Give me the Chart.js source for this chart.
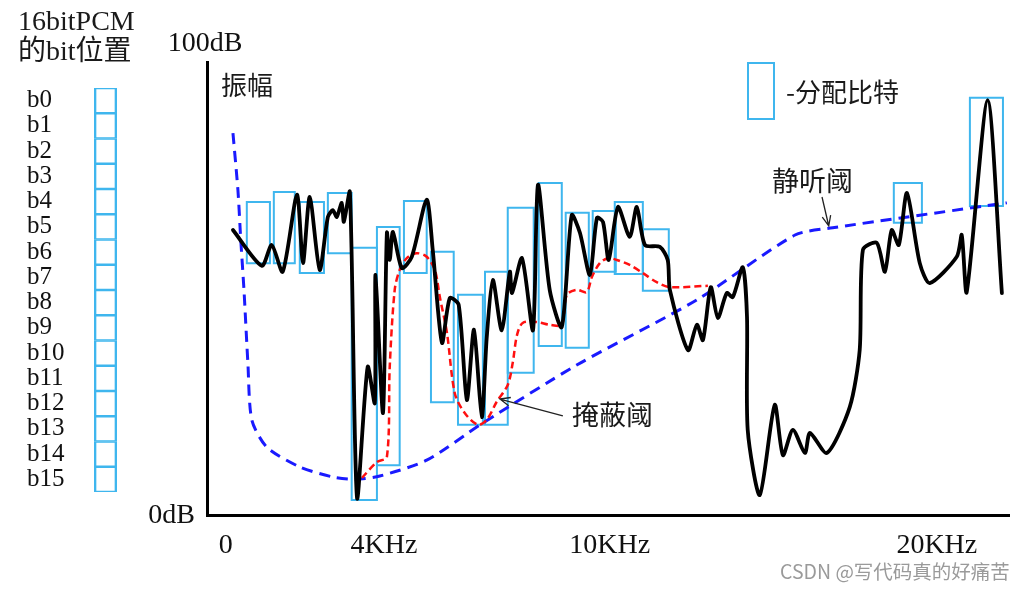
<!DOCTYPE html>
<html>
<head>
<meta charset="utf-8">
<script src="https://cdn.jsdelivr.net/npm/chart.js@4.4.1/dist/chart.umd.min.js"></script>
<style>
  html, body { margin: 0; padding: 0; background: #fff; }
  body { width: 1028px; height: 590px; position: relative; overflow: hidden; }
  canvas { position: absolute; left: 0; top: 0; }
  .txt { position: absolute; white-space: nowrap; color: #1a1a1a; line-height: 1; }
  .cjk { font-family: 'Noto Sans CJK SC', sans-serif; }
  .serif { font-family: 'Liberation Serif', 'Noto Sans CJK SC', serif; }
</style>
</head>
<body>
<canvas id="mainChart" width="1028" height="590"></canvas>
<canvas id="bitChart" width="130" height="590"></canvas>

<div class="txt serif" style="left:18px;top:6px;font-size:28px;line-height:30px;">16bitPCM<br>的bit位置</div>
<div class="txt cjk" style="left:221px;top:71px;font-size:26px;">振幅</div>
<div style="position:absolute;left:747px;top:62px;width:24px;height:54px;border:2px solid #3fb6ee;"></div>
<div class="txt cjk" style="left:786px;top:78px;font-size:26px;">-分配比特</div>
<div class="txt cjk" style="left:772px;top:166px;font-size:27px;">静听阈</div>
<div class="txt cjk" style="left:572px;top:400px;font-size:27px;">掩蔽阈</div>
<div class="txt cjk" style="left:780px;top:561px;font-size:19.5px;color:#9a9a9a;">CSDN @写代码真的好痛苦</div>

<script>
// === Data ===
const bitLabels = ["b0", "b1", "b2", "b3", "b4", "b5", "b6", "b7",
                   "b8", "b9", "b10", "b11", "b12", "b13", "b14", "b15"];

const freqTicks = [0, 4.45, 10.8, 20];
const freqTickLabels = ["0", "4KHz", "10KHz", "20KHz"];
const dbTicks = [0, 100];
const dbTickLabels = ["0dB", "100dB"];

// [freq, dB]
const spectrum = [
    [0.20, 62.9], [1.01, 55.0], [1.29, 59.6], [1.60, 53.7], [2.00, 70.7], [2.17, 55.6],
    [2.36, 70.2], [2.64, 54.1], [2.87, 65.8], [3.01, 67.3], [3.12, 65.8], [3.26, 68.9],
    [3.32, 64.7], [3.49, 71.3], [3.69, 3.8], [3.99, 32.7], [4.19, 24.7], [4.21, 53.0],
    [4.42, 22.5], [4.53, 62.3], [4.61, 56.3], [4.70, 62.5], [4.95, 54.5], [5.23, 57.0],
    [5.65, 69.6], [5.82, 58.5], [6.08, 38.0], [6.30, 47.9], [6.55, 46.4], [6.78, 25.4],
    [6.98, 40.9], [7.20, 21.6], [7.34, 39.3], [7.51, 51.9], [7.76, 40.8], [7.99, 53.7],
    [8.05, 49.0], [8.33, 56.7], [8.64, 40.8], [8.78, 72.9], [9.11, 49.7], [9.45, 41.5],
    [9.73, 66.2], [9.96, 62.3], [10.24, 53.0], [10.44, 65.6], [10.61, 64.7], [10.77, 56.3],
    [11.03, 68.0], [11.36, 61.4], [11.56, 68.0], [11.79, 59.6], [12.21, 59.2], [12.43, 56.3],
    [12.49, 49.7], [13.00, 36.4], [13.25, 42.0], [13.42, 38.6], [13.64, 50.3], [13.84, 43.5],
    [14.09, 49.0], [14.26, 48.1], [14.54, 54.7], [14.66, 43.7], [14.68, 18.8], [15.02, 4.4],
    [15.44, 24.3], [15.67, 13.2], [15.95, 18.8], [16.29, 13.7], [16.43, 18.1], [16.91, 13.7],
    [17.55, 23.8], [17.83, 36.4], [17.92, 58.5], [18.31, 60.1], [18.54, 53.7], [18.73, 62.9],
    [18.93, 59.6], [19.16, 71.1], [19.52, 55.6], [19.80, 51.2], [20.56, 57.0], [20.70, 61.8],
    [20.84, 49.2], [21.43, 91.6], [21.83, 49.0]
];

const maskThreshold = [
    [3.83, 8.2], [4.25, 11.7], [4.53, 12.8], [4.61, 32.7], [4.75, 49.7], [4.89, 54.1],
    [5.09, 56.7], [5.37, 57.8], [5.65, 57.0], [5.88, 54.1], [6.02, 48.1], [6.22, 40.2],
    [6.44, 26.9], [6.72, 22.5], [7.09, 19.9], [7.34, 21.0], [7.62, 25.0], [7.93, 28.7],
    [8.07, 33.6], [8.19, 39.7], [8.35, 42.4], [8.75, 42.6], [9.11, 42.0], [9.45, 42.0],
    [9.59, 48.6], [9.87, 49.7], [10.15, 49.2], [10.30, 52.6], [10.52, 55.6], [10.75, 56.7],
    [11.00, 56.3], [11.36, 55.2], [11.73, 53.4], [12.12, 51.4], [12.49, 50.3], [13.56, 50.6]
];

const quietThreshold = [
    [0.20, 84.3], [0.34, 71.7], [0.42, 60.7], [0.51, 49.7], [0.62, 33.6], [0.73, 21.0],
    [1.15, 15.0], [2.08, 10.6], [3.01, 8.4], [3.63, 7.9], [4.33, 8.6], [5.65, 12.1],
    [7.23, 20.3], [9.87, 33.1], [13.25, 47.5], [16.01, 61.8], [17.07, 63.4], [21.97, 68.9]
];

// [freqLeft, freqRight, dbLow, dbHigh]
const bitBoxes = [
    [0.59, 1.24, 55.6, 69.1], [1.35, 1.94, 55.6, 71.3], [2.08, 2.76, 53.4, 69.1],
    [2.87, 3.54, 57.8, 71.1], [3.54, 4.25, 3.3, 59.0], [4.25, 4.89, 11.0, 63.6],
    [5.01, 5.65, 53.4, 69.3], [5.77, 6.41, 24.9, 58.1], [6.53, 7.23, 19.9, 48.6],
    [7.29, 7.93, 19.9, 53.7], [7.93, 8.66, 31.4, 67.8], [8.80, 9.45, 37.3, 73.3],
    [9.56, 10.21, 36.9, 66.7], [10.32, 10.97, 53.7, 67.1], [10.94, 11.73, 53.2, 69.1],
    [11.73, 12.46, 49.5, 63.1], [18.79, 19.58, 64.5, 73.3], [20.93, 21.86, 68.2, 92.1]
];

const BOX_BLUE = "#3fb6ee";
const SERIF = "'Liberation Serif', 'Noto Sans CJK SC', serif";

Chart.defaults.color = "#111";
Chart.defaults.font.family = SERIF;
Chart.defaults.animation = false;

const toPoints = arr => arr.map(p => ({ x: p[0], y: p[1] }));

// === Left bit column ===
new Chart(document.getElementById("bitChart"), {
    type: "bar",
    data: {
        labels: bitLabels,
        datasets: [{
            data: bitLabels.map(() => [0, 1]),
            backgroundColor: "rgba(0,0,0,0)",
            borderColor: BOX_BLUE,
            borderWidth: { left: 2, right: 2, top: 1, bottom: 1 },
            borderSkipped: false,
            barPercentage: 1,
            categoryPercentage: 1
        }]
    },
    options: {
        indexAxis: "y",
        responsive: false,
        layout: { padding: { left: 27, right: 13, top: 88, bottom: 98 } },
        plugins: { legend: { display: false }, tooltip: { enabled: false } },
        scales: {
            x: { display: false, min: 0, max: 1 },
            y: {
                grid: { display: false },
                border: { display: false },
                ticks: {
                    font: { size: 25, family: SERIF },
                    color: "#111",
                    crossAlign: "far",
                    padding: 0,
                    autoSkip: false
                },
                afterFit: s => { s.width = 67; }
            }
        }
    }
});

// === Main chart helpers ===
const dbLabelPlugin = {
    id: "dbLabels",
    afterDraw(chart) {
        const { ctx, chartArea, scales: { y } } = chart;
        ctx.save();
        ctx.font = "28px " + SERIF;
        ctx.fillStyle = "#111";
        ctx.textBaseline = "middle";
        ctx.textAlign = "right";
        ctx.fillText(dbTickLabels[0], chartArea.left - 12, y.getPixelForValue(dbTicks[0]) + 1);
        ctx.textAlign = "center";
        ctx.fillText(dbTickLabels[1], chartArea.left - 2, y.getPixelForValue(dbTicks[1]) - 18);
        ctx.restore();
    }
};

function drawArrow(ctx, x0, y0, x1, y1) {
    const ang = Math.atan2(y1 - y0, x1 - x0);
    ctx.beginPath();
    ctx.moveTo(x0, y0);
    ctx.lineTo(x1, y1);
    ctx.moveTo(x1 - 11 * Math.cos(ang - 0.4), y1 - 11 * Math.sin(ang - 0.4));
    ctx.lineTo(x1, y1);
    ctx.lineTo(x1 - 11 * Math.cos(ang + 0.4), y1 - 11 * Math.sin(ang + 0.4));
    ctx.stroke();
}

const arrowPlugin = {
    id: "arrows",
    afterDatasetsDraw(chart) {
        const { ctx, scales: { x, y } } = chart;
        ctx.save();
        ctx.strokeStyle = "#222";
        ctx.lineWidth = 1.3;
        // 静听阈
        drawArrow(ctx, x.getPixelForValue(16.77), y.getPixelForValue(70.2),
                       x.getPixelForValue(16.96), y.getPixelForValue(63.8));
        // 掩蔽阈
        drawArrow(ctx, x.getPixelForValue(9.48), y.getPixelForValue(21.9),
                       x.getPixelForValue(7.71), y.getPixelForValue(25.6));
        ctx.restore();
    }
};

const boxDatasets = bitBoxes.map(([x0, x1, lo, hi]) => ({
    data: [{ x: x0, y: lo }, { x: x1, y: lo }, { x: x1, y: hi }, { x: x0, y: hi }, { x: x0, y: lo }, { x: x1, y: lo }],
    showLine: true,
    borderColor: BOX_BLUE,
    borderWidth: 2,
    pointRadius: 0,
    tension: 0,
    order: 3
}));

new Chart(document.getElementById("mainChart"), {
    type: "scatter",
    data: {
        datasets: [
            {
                data: toPoints(spectrum),
                showLine: true,
                borderColor: "#000",
                borderWidth: 3.8,
                borderJoinStyle: "round",
                borderCapStyle: "round",
                pointRadius: 0,
                tension: 0.25,
                order: 0
            },
            {
                data: toPoints(maskThreshold),
                showLine: true,
                borderColor: "#ff1010",
                borderWidth: 2.5,
                borderDash: [7, 4],
                pointRadius: 0,
                tension: 0.3,
                order: 1
            },
            {
                data: toPoints(quietThreshold),
                showLine: true,
                borderColor: "#1a1aff",
                borderWidth: 3,
                borderDash: [11, 7],
                pointRadius: 0,
                tension: 0.25,
                order: 2
            },
            ...boxDatasets
        ]
    },
    options: {
        responsive: false,
        layout: { padding: { left: 207, top: 62, right: 19, bottom: 0 } },
        plugins: { legend: { display: false }, tooltip: { enabled: false } },
        scales: {
            x: {
                type: "linear",
                min: -0.53,
                max: 22.03,
                grid: { display: false, drawTicks: false, tickLength: 0 },
                border: { display: true, color: "#000", width: 3 },
                afterBuildTicks: s => { s.ticks = freqTicks.map(v => ({ value: v })); },
                ticks: {
                    padding: 14,
                    font: { size: 28, family: SERIF },
                    color: "#111",
                    maxRotation: 0,
                    autoSkip: false,
                    callback: (v, i) => freqTickLabels[i]
                },
                afterFit: s => { s.height = 75; }
            },
            y: {
                type: "linear",
                min: 0,
                max: 100,
                grid: { display: false, drawTicks: false, tickLength: 0 },
                border: { display: true, color: "#000", width: 3 },
                ticks: { display: false },
                afterFit: s => { s.width = 0; }
            }
        }
    },
    plugins: [dbLabelPlugin, arrowPlugin]
});
</script>
</body>
</html>
